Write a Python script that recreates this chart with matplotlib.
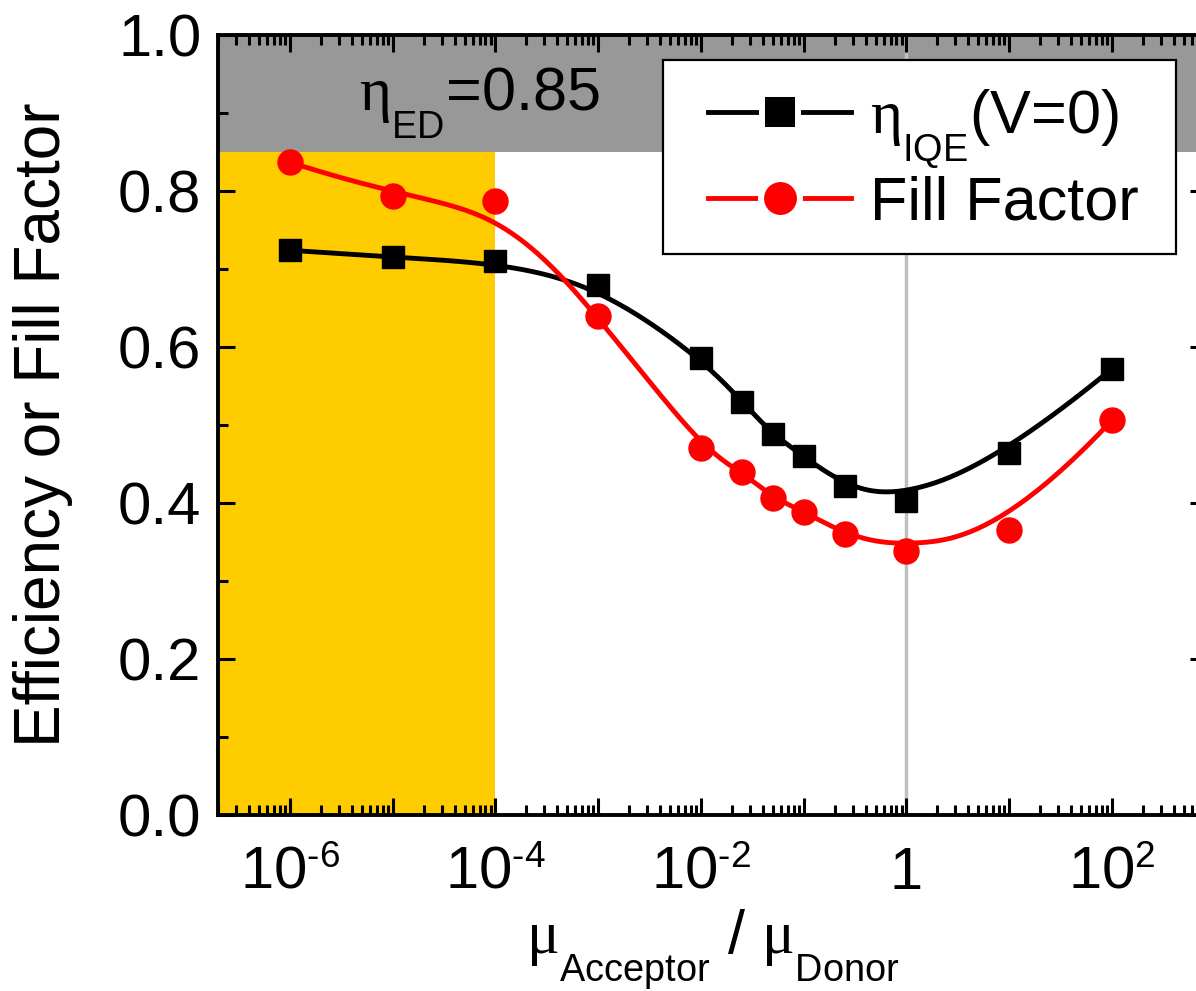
import numpy as np
import matplotlib
matplotlib.use("Agg")
import matplotlib.pyplot as plt
import matplotlib._mathtext as mathtext_internals
from matplotlib.patches import Rectangle
from matplotlib.ticker import FixedLocator, LogLocator, FuncFormatter, MultipleLocator

plt.rcParams["font.family"] = ["Liberation Sans", "DejaVu Sans"]
plt.rcParams["mathtext.fontset"] = "custom"
plt.rcParams["mathtext.rm"] = "Liberation Serif"
plt.rcParams["mathtext.default"] = "regular"
# Origin puts subscripts lower and scripts a bit smaller than mathtext does
mathtext_internals.FontConstantsBase.sub1 = 0.9
mathtext_internals.SHRINK_FACTOR = 0.62

# data
ratio = [1e-6, 1e-5, 1e-4, 1e-3, 1e-2, 0.025, 0.05, 0.1, 0.25, 1, 10, 100]
iqe = [0.724, 0.715, 0.710, 0.679, 0.586, 0.530, 0.488, 0.460, 0.422, 0.402, 0.464, 0.572]
fill_factor = [0.837, 0.794, 0.787, 0.640, 0.470, 0.440, 0.407, 0.389, 0.360, 0.339, 0.366, 0.506]

eta_ed = 0.85
yellow_limit = 1e-4
decades = [-6, -5, -4, -3, -2, -1, 0, 1, 2]
labelled = {-6: "10$^{\u20106}$", -4: "10$^{\u20104}$", -2: "10$^{\u20102}$", 0: "1", 2: "10$^{2}$"}


def bspline(xs, ys, n=400):
    # cubic B-spline with the points as control points (like Origin's B-spline line)
    px = np.log10(xs)
    py = np.asarray(ys, float)
    m = len(px)
    knots = np.concatenate([[0, 0, 0], np.arange(m - 2), [m - 3] * 3]).astype(float)
    t = np.linspace(0, m - 3, n)
    t[-1] -= 1e-9
    N = np.array([(t >= knots[i]) & (t < knots[i + 1]) for i in range(len(knots) - 1)], float)
    for p in range(1, 4):
        new = []
        for i in range(len(knots) - p - 1):
            a = knots[i + p] - knots[i]
            b = knots[i + p + 1] - knots[i + 1]
            left = (t - knots[i]) / a * N[i] if a > 0 else 0 * t
            right = (knots[i + p + 1] - t) / b * N[i + 1] if b > 0 else 0 * t
            new.append(left + right)
        N = np.array(new)
    return 10 ** (px @ N), py @ N


fig = plt.figure(figsize=(11.96, 9.91), dpi=100)
ax = fig.add_axes([218 / 1196, 176 / 991, 989 / 1196, 780 / 991])

ax.set_xscale("log")
ax.set_xlim(10 ** -6.70, 10 ** 2.925)
ax.set_ylim(0, 1.0)

ax.axhspan(eta_ed, 1.0, color="#989898", lw=0, zorder=0)
ax.axvspan(ax.get_xlim()[0], yellow_limit, ymax=eta_ed, color="#ffcc00", lw=0, zorder=0)
ax.axvline(1, color="#c0c0c0", lw=2.5, zorder=1)

cx, cy = bspline(ratio, iqe)
ax.plot(cx, cy, color="black", lw=3.5, zorder=3)
ax.plot(ratio, iqe, ls="none", marker="s", ms=16.5, color="black", zorder=4)
cx, cy = bspline(ratio, fill_factor)
ax.plot(cx, cy, color="red", lw=3.5, zorder=3)
ax.plot(ratio, fill_factor, ls="none", marker="o", ms=18, color="red", zorder=4)

# legend box drawn separately so its padding can follow the original
ax.add_patch(Rectangle((0.450, 0.719), 0.5187, 0.249, transform=ax.transAxes,
                       facecolor="white", edgecolor="black", lw=1.6, zorder=9))

# legend handles: white marker edge gives the gap between line and symbol
h1, = ax.plot([], [], color="black", lw=3.5, marker="s", ms=26, mec="white", mew=4.3)
h2, = ax.plot([], [], color="red", lw=3.5, marker="o", ms=28, mec="white", mew=4.3)
leg = ax.legend([h1, h2], [r"$\mathrm{\eta}_{IQE}$(V=0)", "Fill Factor"],
                loc="upper right", bbox_to_anchor=(0.9585, 0.968), borderaxespad=0,
                fontsize=44, numpoints=1, handlelength=2.35, handletextpad=0.3,
                borderpad=0.45, labelspacing=0.07, frameon=False)
leg.set_zorder(10)

ax.text(10 ** -5.33, 0.904, r"$\mathrm{\eta}_{ED}$=%.2f" % eta_ed, fontsize=44,
        ha="left", va="baseline", zorder=5)

ax.xaxis.set_major_locator(FixedLocator([10.0 ** d for d in decades]))
ax.xaxis.set_major_formatter(FuncFormatter(lambda v, pos: labelled.get(int(round(np.log10(v))), "")))
ax.xaxis.set_minor_locator(LogLocator(base=10, subs=np.arange(2, 10), numticks=50))
ax.yaxis.set_major_locator(MultipleLocator(0.2))
ax.yaxis.set_minor_locator(MultipleLocator(0.1))
ax.yaxis.set_major_formatter(FuncFormatter(lambda v, pos: "%.1f" % v))

ax.tick_params(which="both", direction="in", top=True, right=True)
ax.tick_params(axis="x", labelsize=43, pad=22)
ax.tick_params(axis="y", labelsize=43, pad=12)
ax.tick_params(which="major", length=12, width=2.2)
ax.tick_params(which="minor", length=7, width=2.2)
for s in ax.spines.values():
    s.set_linewidth(2.8)
    s.set_zorder(6)

ax.set_ylabel("Efficiency or Fill Factor", fontsize=46, labelpad=32)
ax.set_xlabel(r"$\mathrm{\mu}_{Acceptor}$ / $\mathrm{\mu}_{Donor}$", fontsize=44)
ax.xaxis.set_label_coords(0.5, -0.118)

fig.savefig("out.png", dpi=100)
